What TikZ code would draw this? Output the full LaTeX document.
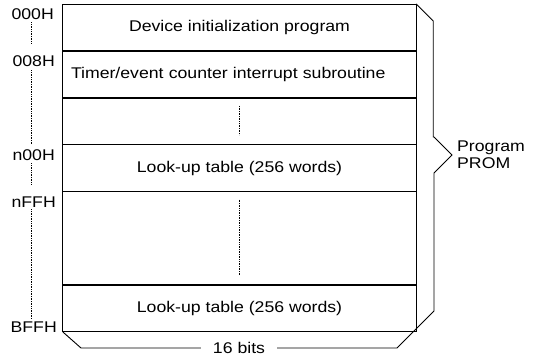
\documentclass[tikz,border=0pt]{standalone}
\usepackage{fontspec}
\setmainfont[FakeStretch=1.14]{Liberation Sans}
\usetikzlibrary{positioning}

\begin{document}
\begin{tikzpicture}[x=1pt,y=-1pt,
    font=\fontsize{15.5pt}{17pt}\selectfont,
    cell/.style={minimum width=353pt,minimum height=46.5pt,inner sep=0pt},
    addr/.style={anchor=base east,inner sep=0pt},
    frame/.style={line width=0.9pt},
    divider/.style={line width=1.5pt},
    dots/.style={densely dotted,line width=0.7pt}]
    \useasboundingbox (0,0) rectangle (534,362);
                      \node[cell,anchor=north]   (init)  at (239.5,4)   {Device initialization program};
                      \node[cell,below=0pt of init,text width=337pt,align=left] (timer) {Timer/event counter interrupt subroutine};
                      \node[cell,below=0pt of timer] (gap1)  {};
                      \node[cell,below=0pt of gap1]  (lut1)  {Look-up table (256 words)};
                      \node[cell,below=0pt of lut1,minimum height=93pt] (gap2) {};
                      \node[cell,below=0pt of gap2]  (lut2)  {Look-up table (256 words)};

                      \node[addr] (a000) at (54,19)  {000H};
                      \node[addr] (a008) at (55,66)  {008H};
                      \node[addr] (an00) at (55,160) {n00H};
                      \node[addr] (anff) at (56,207) {nFFH};
                      \node[addr] (abff) at (57,332) {BFFH};
                      \coordinate (dl) at (31,0);

                      \node[anchor=west,align=left,inner xsep=0pt] (prom) at (457,155) {Program\\PROM};
                      \coordinate (tip) at (452,155);

                          \draw[frame] (init.north west) rectangle (lut2.south east);
                          \draw[divider] (init.south west)  -- (init.south east)
                                         (timer.south west) -- (timer.south east)
                                         (gap1.south west)  -- (gap1.south east)
                                         (lut1.south west)  -- (lut1.south east)
                                         (gap2.south west)  -- (gap2.south east);

                          \draw[dots] ([yshift=-8pt]gap1.north) -- ([yshift=10pt]gap1.south)
                                      ([yshift=-8pt]gap2.north) -- ([yshift=10pt]gap2.south);

                          \draw[dots] ([yshift=-3pt]a000.south -| dl) -- ([yshift=12pt]a008.north -| dl)
                                      ([yshift=-4pt]a008.south -| dl) -- ([yshift=4pt]an00.north -| dl)
                                      ([yshift=-3pt]an00.south -| dl) -- ([yshift=11pt]anff.north -| dl)
                                      ([yshift=-2pt]anff.south -| dl) -- ([yshift=3pt]abff.north -| dl);

                          \draw[frame] (init.north east) -- ++(17,17) |- ([yshift=18pt]tip -| 434,0)
                                       -- (tip) -- ([yshift=-18pt]tip -| 434,0) -- (434,311)
                                       -- (397,348) -- node[fill=white,inner xsep=12pt,inner ysep=0pt] (bits) {16 bits} (81,348)
                                       -- (lut2.south west);
          \end{tikzpicture}
\end{document}
